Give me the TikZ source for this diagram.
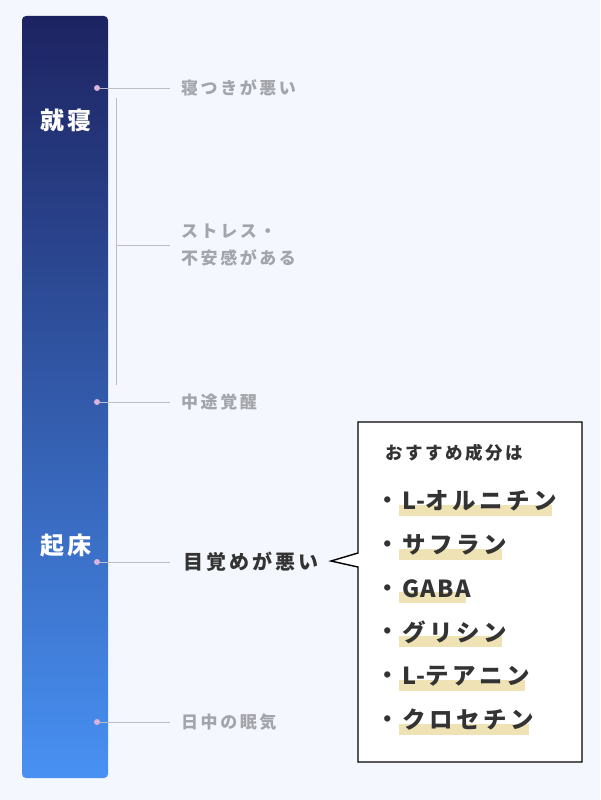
\documentclass[tikz,border=0pt]{standalone}
\usepackage{fontspec}
\setmainfont{Noto Sans CJK JP}
\newfontfamily\jp[LetterSpace=15]{Noto Sans CJK JP}
\newfontfamily\jpl[LetterSpace=6]{Noto Sans CJK JP}
\usepackage{xcolor}
\usetikzlibrary{calc}
\pgfdeclarelayer{back}
\pgfdeclarelayer{mid}
\pgfsetlayers{back,mid,main}
\definecolor{bgblue}{HTML}{F4F8FE}
\definecolor{bartop}{HTML}{1D2361}
\definecolor{barbot}{HTML}{4891F3}
\definecolor{dotpink}{HTML}{D9B3DC}
\definecolor{linegray}{HTML}{B9BDC7}
\definecolor{txtgray}{HTML}{A3A5AB}
\definecolor{txtdark}{HTML}{333333}
\definecolor{hlyellow}{HTML}{EFE3B5}
\tikzset{
    dotmark/.style={circle, fill=dotpink, inner sep=0pt, minimum size=6pt},
    symptom/.style={anchor=west, inner xsep=11pt, inner ysep=0pt, text=txtgray, align=left,
        font=\jp\bfseries\fontsize{17}{27}\selectfont},
    barlabel/.style={text=white, inner sep=0pt, font=\jp\bfseries\fontsize{24}{24}\selectfont},
    item/.style={anchor=west, inner sep=0pt, text=txtdark, font=\jp\bfseries\fontsize{23.5}{26}\selectfont},
}

\begin{document}
\begin{tikzpicture}[x=1pt, y=-1pt]
    \begin{pgfonlayer}{back}
    \fill[bgblue] (0,0) rectangle (600,800);
    \useasboundingbox (0,0) rectangle (600,800);
    \shade[rounded corners=4pt, top color=bartop, bottom color=barbot] (22,16) rectangle (108,778);
    % callout
    \coordinate (tip) at (331,561);
    \draw[line width=1.4pt, fill=white, line join=miter] (358,422) -- (582,422) -- (582,762)
        -- (358,762) -- (358,567) -- (tip) -- (358,553) -- cycle;
    \end{pgfonlayer}
    \node[barlabel] (bed) at (66,120) {就寝};
    \node[barlabel] (wake) at (66,546) {起床};
    % symptoms
    \foreach \n/\y in {1/88, 3/402, 4/562, 5/722} {
        \node[dotmark] (d\n) at (97,\y) {};
    }
    \node[symptom] (s1) at (170,88) {寝つきが悪い};
    \node[symptom] (s2) at (170,245) {ストレス・\\不安感がある};
    \node[symptom] (s3) at (170,402) {中途覚醒};
    \node[symptom, text=txtdark, font=\jp\bfseries\fontsize{20}{24}\selectfont, inner xsep=13pt] (s4) at (170,562) {目覚めが悪い};
    \node[symptom] (s5) at (170,722) {日中の眠気};
    \foreach \n in {1,3,4,5} {
        \draw[linegray, line width=1pt] (d\n) -- (s\n);
    }
    \coordinate (br1) at (116,98);
    \coordinate (br2) at (116,385);
    \coordinate (brm) at (116,245);
    \draw[linegray, line width=1pt] (br1) -- (br2);
    \draw[linegray, line width=1pt] (brm) -- (s2.west);
    % recommended
    \node[anchor=west, inner sep=0pt, text=txtdark, font=\jp\bfseries\fontsize{17.5}{20}\selectfont] (head) at (385,453) {おすすめ成分は};
    \foreach \name [count=\i from 0] in {{\jpl L-}オルニチン, サフラン, {\jpl GABA}, グリシン, {\jpl L-}テアニン, クロセチン} {
        \node[item] (it\i) at (402,501+43.7*\i) {\name};
        \node[text=txtdark, inner sep=0pt, font=\bfseries\fontsize{22.5}{26}\selectfont] (b\i) at (388,503+43.7*\i) {・};
    }
    \begin{pgfonlayer}{mid}
    \foreach \i in {0,...,5} {
        \fill[hlyellow] ($(it\i.west)+(-3,4)$) rectangle ($(it\i.east)+(-5,15)$);
    }
    \end{pgfonlayer}
\end{tikzpicture}
\end{document}
